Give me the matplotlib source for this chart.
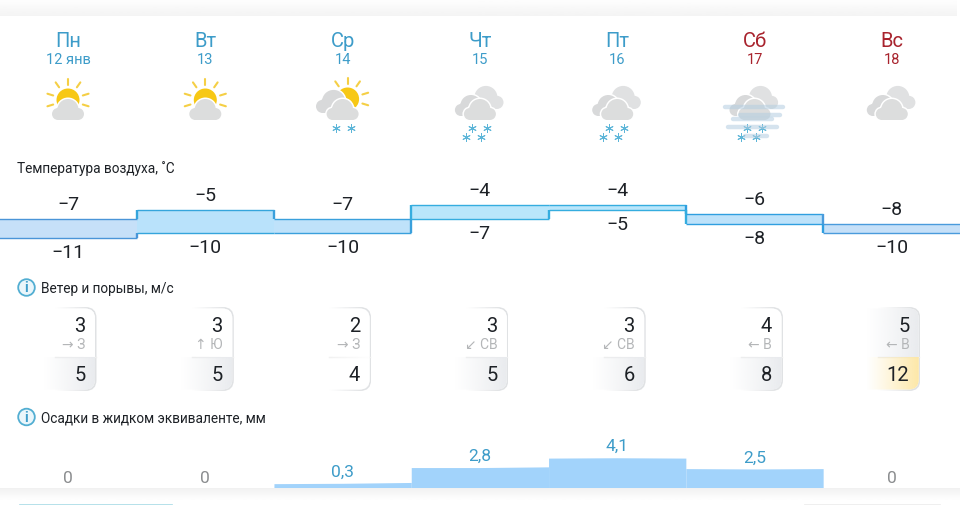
import numpy as np
import matplotlib
matplotlib.use('Agg')
import matplotlib.pyplot as plt
from matplotlib.colors import to_rgb
from matplotlib.patches import Circle, FancyBboxPatch, Rectangle

plt.rcParams['font.family'] = ['Roboto', 'DejaVu Sans']

# data
days = ['Пн', 'Вт', 'Ср', 'Чт', 'Пт', 'Сб', 'Вс']
dates = ['12 янв', '13', '14', '15', '16', '17', '18']
temp_high = [-7, -5, -7, -4, -4, -6, -8]
temp_low = [-11, -10, -10, -7, -5, -8, -10]
wind = [3, 3, 2, 3, 3, 4, 5]
gust = [5, 5, 4, 5, 6, 8, 12]
wind_dir = ['→ З', '↑ Ю', '→ З', '↙ СВ', '↙ СВ', '← В', '← В']
precip = [0, 0, 0.3, 2.8, 4.1, 2.5, 0]
precip_text = ['0', '0', '0,3', '2,8', '4,1', '2,5', '0']
# bar top at the left edge, middle and right edge of each day, mm
precip_top = [[0, 0, 0], [0, 0, 0], [0.55, 0.6, 0.72], [2.85, 2.85, 2.95],
              [4.2, 4.25, 4.2], [2.7, 2.65, 2.7], [0, 0, 0]]
icons = ['sun', 'sun', 'sun_snow', 'snow', 'snow', 'fog', 'cloud']

W, H = 960, 506
DAY = 137.3
X0 = 68.0
BLUE = '#3d9cc9'
RED = '#a8232d'
INK = '#1d2126'

fig = plt.figure(figsize=(W / 100, H / 100), dpi=100, facecolor='white')


def px_axes(top, bottom):
    # axes over the full width, x in day numbers, placed by pixel rows
    a = fig.add_axes([0, 1 - bottom / H, 1, (bottom - top) / H])
    a.set_xlim(-X0 / DAY, (W - X0) / DAY)
    a.patch.set_alpha(0)
    a.axis('off')
    return a


# page layer in pixels
ax = fig.add_axes([0, 0, 1, 1])
ax.set_xlim(0, W)
ax.set_ylim(H, 0)
ax.axis('off')

# grey bands above and below the card
top_band = np.linspace(0.995, 0.955, 20).reshape(-1, 1)
ax.imshow(top_band, extent=[0, 957, 17, 0], cmap='gray', vmin=0, vmax=1, aspect='auto')
bot_band = np.linspace(0.945, 0.995, 12).reshape(-1, 1)
ax.imshow(bot_band, extent=[0, W, 501, 489], cmap='gray', vmin=0, vmax=1, aspect='auto')
ax.plot([20, 172], [505.5, 505.5], color='#a9dbe6', lw=1.2)
ax.plot([805, 940], [505.5, 505.5], color='#ececec', lw=1.2)


def cloud(cx, by, s=1.0, color='#dadbdc', edge=None):
    parts = [(cx - 10 * s, by - 6 * s, 6 * s), (cx + 10 * s, by - 6 * s, 6 * s),
             (cx, by - 10.5 * s, 10.5 * s), (cx - 5 * s, by - 8 * s, 7 * s)]
    if edge:
        for x, y, r in parts:
            ax.add_patch(Circle((x, y), r + 1.5, fc=edge, ec='none'))
        ax.add_patch(Rectangle((cx - 11 * s, by - 6 * s), 22 * s, 7.5, fc=edge, ec='none'))
    for x, y, r in parts:
        ax.add_patch(Circle((x, y), r, fc=color, ec='none'))
    ax.add_patch(Rectangle((cx - 10 * s, by - 6 * s), 20 * s, 6 * s, fc=color, ec='none'))


def sun(cx, cy, rays, r=11.5):
    ax.add_patch(Circle((cx, cy), r, fc='#f7c815', ec='none'))
    for d in rays:
        a = np.radians(d)
        ax.plot([cx + 15.5 * np.cos(a), cx + 21.5 * np.cos(a)],
                [cy + 15.5 * np.sin(a), cy + 21.5 * np.sin(a)],
                color='#f5cf45', lw=1.5, solid_capstyle='round')


def flakes(cx, offsets):
    for dx, y in offsets:
        ax.plot(cx + dx, y, marker=(6, 2, 0), ms=6, mew=0.7, color='#5cb5d8', ls='none', zorder=6)


def heavy_clouds(cx):
    cloud(cx + 6, 110, 1.1, '#e0e1e2')
    cloud(cx - 9, 117, 1.0, '#d8d9da', edge='white')
    cloud(cx, 121, 1.0, '#dcdddd', edge='white')


for i, kind in enumerate(icons):
    cx = X0 + DAY * i
    ax.text(cx, 41, days[i], color=RED if i >= 5 else BLUE, fontsize=14.5, ha='center', va='center')
    ax.text(cx, 60, dates[i], color=RED if i >= 5 else BLUE, fontsize=10.5, ha='center', va='center')
    if kind == 'sun':
        sun(cx, 101, (-90, -55, -125, -17, -163, 17, 163))
        cloud(cx, 121, 1.0, '#dcdddd', edge='white')
    elif kind == 'sun_snow':
        sun(cx + 5, 100, (-125, -90, -55, -17, 17))
        cloud(cx - 9, 114, 1.1, '#d8d9da', edge='white')
        cloud(cx, 121, 1.0, '#dcdddd', edge='white')
        flakes(cx, [(-7, 129), (8, 129)])
    elif kind == 'snow':
        heavy_clouds(cx)
        flakes(cx, [(-8, 129), (7, 129), (-14, 138), (1, 138)])
    elif kind == 'fog':
        heavy_clouds(cx)
        flakes(cx, [(-8, 129), (7, 129), (-14, 138), (1, 138)])
        for x1, x2, y in [(725, 783, 108), (740, 780, 116), (733, 772, 120), (728, 777, 128), (745, 767, 137)]:
            ax.plot([x1, x2], [y, y], color='#b3cde0', lw=3.2, alpha=0.55, solid_capstyle='round', zorder=7)
    else:
        heavy_clouds(cx)

# section headers
ax.text(17, 169, 'Температура воздуха, ˚С', color=INK, fontsize=9.8, va='center')
for y, label in [(288.5, 'Ветер и порывы, м/с'), (418, 'Осадки в жидком эквиваленте, мм')]:
    ax.add_patch(Circle((26.5, y), 8.3, fc='#eaf6fb', ec='#52aed2', lw=1.3))
    ax.text(26.5, y, 'i', color='#3d9cc9', fontsize=10, fontweight='bold', ha='center', va='center')
    ax.text(41, y + 0.5, label, color=INK, fontsize=9.8, va='center')

# temperature band
ax_t = px_axes(171, 271)
ax_t.set_ylim(-17.92, 3.5)
fills = ['#c6e0f8', '#b9e2fb', '#bfe2fa', '#b9e6fb', '#b9e6fb', '#bde2fa', '#c6e0f8']
lines = ['#4a95d8', '#35a5dc', '#3aa0dc', '#35addf', '#35addf', '#2f9fe0', '#4a9bdc']
for i in range(7):
    xs = [i - 0.5, i + 0.5]
    ax_t.fill_between(xs, temp_low[i], temp_high[i], color=fills[i], lw=0)
    ax_t.plot(xs, [temp_high[i]] * 2, color=lines[i], lw=1.0, solid_capstyle='butt')
    ax_t.plot(xs, [temp_low[i]] * 2, color=lines[i], lw=1.0, solid_capstyle='butt')
    ax_t.annotate(f'−{abs(temp_high[i])}', (i, temp_high[i]), xytext=(0, 15 * 0.72), textcoords='offset points',
                  ha='center', va='center', fontsize=14, color=INK)
    ax_t.annotate(f'−{abs(temp_low[i])}', (i, temp_low[i]), xytext=(0, -14 * 0.72), textcoords='offset points',
                  ha='center', va='center', fontsize=14, color=INK)
    if i < 6:
        ax_t.vlines(i + 0.5, min(temp_high[i], temp_high[i + 1]), max(temp_high[i], temp_high[i + 1]),
                    color=lines[i + 1], lw=1.7)
        ax_t.vlines(i + 0.5, min(temp_low[i], temp_low[i + 1]), max(temp_low[i], temp_low[i + 1]),
                    color=lines[i], lw=1.7)


# wind cells
def wind_colour(v):
    if v >= 10:
        return '#fde7a6'
    if v >= 5:
        return '#e9ebee'
    return '#ffffff'


def fade(colour, x1, x2, y1, y2, clip, z):
    img = np.zeros((2, 64, 4))
    img[:, :, :3] = to_rgb(colour)
    img[:, :, 3] = np.linspace(0, 1, 64) ** 1.1
    im = ax.imshow(img, extent=[x1, x2, y2, y1], aspect='auto', zorder=z)
    im.set_clip_path(clip)


top, mid, bottom = 308, 358, 392
for i in range(7):
    right = X0 + DAY * i + 28.5
    left = right - 62
    outer = FancyBboxPatch((left, top), right - left, bottom - top, boxstyle='round,pad=0,rounding_size=11',
                           fc='none', ec='none')
    ax.add_patch(outer)
    fade('#e0e2e4', left + 20, right - 8, top, bottom, outer, 3)
    ax.add_patch(Rectangle((right - 8, top), 8, bottom - top, fc='#e0e2e4', ec='none', zorder=3,
                           clip_path=outer))
    inner = FancyBboxPatch((left - 2, top + 1.5), right - left + 0.5, bottom - top - 3,
                           boxstyle='round,pad=0,rounding_size=10', fc='white', ec='none', zorder=3.5)
    ax.add_patch(inner)
    ax.plot([left + 20, right - 1], [mid, mid], color='#eeeeee', lw=1, zorder=3.6)
    # fills stay inside the border, so white cells keep their outline
    fade(wind_colour(wind[i]), left + 8, right, top, mid, inner, 3.7)
    fade(wind_colour(gust[i]), left + 8, right, mid, bottom, inner, 3.7)
    ax.text(right - 11, 326, str(wind[i]), color=INK, fontsize=14.5, ha='right', va='center', zorder=5)
    ax.text(right - 11, 345, wind_dir[i], color='#b4b6b8', fontsize=10, ha='right', va='center', zorder=5)
    ax.text(right - 11, 375.5, str(gust[i]), color=INK, fontsize=14.5, ha='right', va='center', zorder=5)

ax.set_xlim(0, W)
ax.set_ylim(H, 0)

# precipitation
ax_p = px_axes(430, 488.5)
ax_p.set_ylim(0, 58.5 / 7)
for i in range(7):
    if precip[i] > 0:
        ax_p.fill_between([i - 0.5, i, i + 0.5], 0, precip_top[i], color='#a2d3fb', lw=0)
    ax_p.annotate(precip_text[i], (i, precip_top[i][1]), xytext=(0, (12 if precip[i] > 0 else 10) * 0.72),
                  textcoords='offset points', ha='center', va='center', fontsize=12.5,
                  color=BLUE if precip[i] > 0 else '#8b8d8f')

fig.savefig('out.png', dpi=100)
